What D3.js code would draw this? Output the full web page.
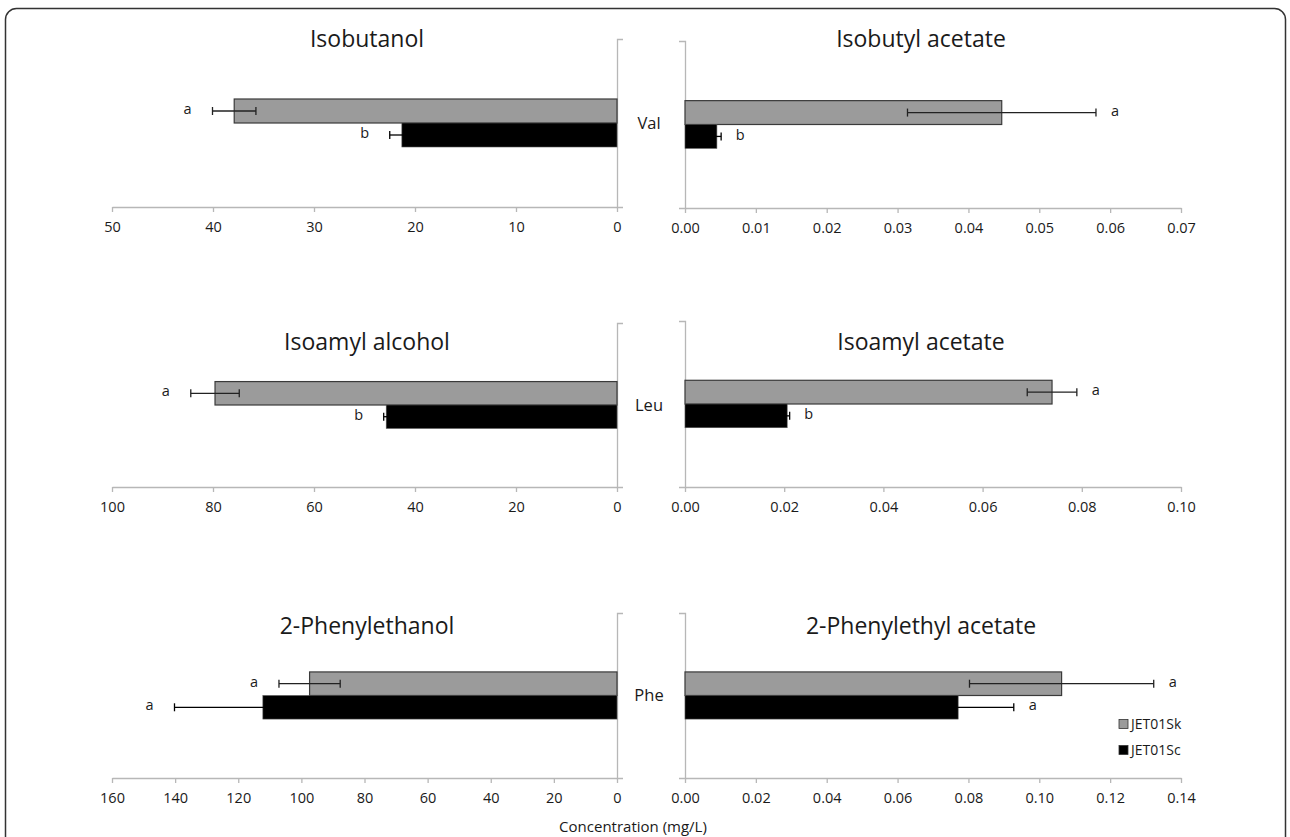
<!DOCTYPE html>
<html>
<head>
<meta charset="utf-8">
<script src="https://cdn.jsdelivr.net/npm/d3@7"></script>
<style>
  html, body { margin: 0; padding: 0; background: #fff; }
  svg { display: block; }
  text { font-family: "Open Sans", "DejaVu Sans", sans-serif; fill: #1a1a1a; }
</style>
</head>
<body>
<svg id="chart" width="1290" height="837"></svg>
<script>
// ---------------- data ----------------
const aminoAcids = ["Val", "Leu", "Phe"];
const seriesNames = ["JET01Sk", "JET01Sc"];

const alcoholNames = ["Isobutanol", "Isoamyl alcohol", "2-Phenylethanol"];
const alcoholSk    = [37.9, 79.6, 97.4];
const alcoholSkErr = [2.15, 4.8, 9.7];
const alcoholSkSig = ["a", "a", "a"];
const alcoholSc    = [21.3, 45.7, 112.2];
const alcoholScErr = [1.2, 0.5, 28.0];
const alcoholScSig = ["b", "b", "a"];
const alcoholMax   = [50, 100, 160];
const alcoholStep  = [10, 20, 20];

const acetateNames = ["Isobutyl acetate", "Isoamyl acetate", "2-Phenylethyl acetate"];
const acetateSk    = [0.0447, 0.0740, 0.1063];
const acetateSkErr = [0.0133, 0.0050, 0.0260];
const acetateSkSig = ["a", "a", "a"];
const acetateSc    = [0.0045, 0.0206, 0.0771];
const acetateScErr = [0.0006, 0.0005, 0.0157];
const acetateScSig = ["b", "b", "a"];
const acetateMax   = [0.07, 0.10, 0.14];
const acetateStep  = [0.01, 0.02, 0.02];

const axisTitle = "Concentration (mg/L)";

// ---------------- layout ----------------
const svg = d3.select("#chart");
const leftX  = [112, 617];   // max -> 0
const rightX = [685, 1181];  // 0 -> max
const rowsLeft  = [[39, 207], [323, 487], [613, 778]];
const rowsRight = [[41, 208], [321, 487], [613, 778]];
const titleY = [47, 350, 634];
const titleLeftX = 367, titleRightX = 921;
const colors = { JET01Sk: "#9b9b9b", JET01Sc: "#000000" };
const errColors = { JET01Sk: "#222", JET01Sc: "#000" };
const axisColor = "#b7b7b7";

// frame
svg.append("rect")
  .attr("x", 5.5).attr("y", 8.5).attr("width", 1280).attr("height", 860)
  .attr("rx", 11).attr("ry", 11)
  .attr("fill", "none").attr("stroke", "#333").attr("stroke-width", 1.5);

function panel(side, i) {
  const isLeft = side === "left";
  const [y0, y1] = isLeft ? rowsLeft[i] : rowsRight[i];
  const max = isLeft ? alcoholMax[i] : acetateMax[i];
  const step = isLeft ? alcoholStep[i] : acetateStep[i];
  const x = d3.scaleLinear().domain([0, max])
    .range(isLeft ? [leftX[1], leftX[0]] : [rightX[0], rightX[1]]);
  const y = d3.scaleBand().domain([aminoAcids[i]]).range([y0, y1])
    .paddingInner(0).paddingOuter(1.25);
  const ys = d3.scaleBand().domain(seriesNames).range([0, y.bandwidth()]);

  const vals = isLeft
    ? [{s: "JET01Sk", v: alcoholSk[i], e: alcoholSkErr[i], g: alcoholSkSig[i]},
       {s: "JET01Sc", v: alcoholSc[i], e: alcoholScErr[i], g: alcoholScSig[i]}]
    : [{s: "JET01Sk", v: acetateSk[i], e: acetateSkErr[i], g: acetateSkSig[i]},
       {s: "JET01Sc", v: acetateSc[i], e: acetateScErr[i], g: acetateScSig[i]}];

  const g = svg.append("g");
  const ticks = d3.range(0, max + step / 2, step);

  // x axis
  const ax = d3.axisBottom(x).tickValues(ticks).tickSize(5).tickSizeOuter(0).tickPadding(10)
    .tickFormat(isLeft ? d3.format("d") : d3.format(".2f"));
  const axg = g.append("g").attr("transform", `translate(0,${y1})`).call(ax);
  axg.select(".domain").attr("stroke", axisColor).attr("stroke-width", 1.3);
  axg.selectAll(".tick line").attr("stroke", axisColor).attr("stroke-width", 1.3);
  axg.selectAll(".tick text").style("font-size", "14.5px").style("font-family", '"Open Sans", sans-serif').attr("fill", "#1a1a1a");

  // category axis (vertical)
  const ay = (isLeft ? d3.axisRight(y) : d3.axisLeft(y)).tickValues([]).tickSizeOuter(6);
  const ayg = g.append("g").attr("transform", `translate(${x(0)},0)`).call(ay);
  ayg.select(".domain").attr("stroke", axisColor).attr("stroke-width", 1.3).attr("fill", "none");

  // bars
  g.append("g").selectAll("rect").data(vals).join("rect")
    .attr("x", d => Math.min(x(0), x(d.v)))
    .attr("width", d => Math.abs(x(d.v) - x(0)))
    .attr("y", d => y(aminoAcids[i]) + ys(d.s))
    .attr("height", ys.bandwidth())
    .attr("fill", d => colors[d.s])
    .attr("stroke", d => d.s === "JET01Sk" ? "#3a3a3a" : "#555")
    .attr("stroke-width", d => d.s === "JET01Sk" ? 1.2 : 0.6);

  // error bars
  vals.forEach(d => {
    const eg = g.append("g").attr("stroke", errColors[d.s]).attr("stroke-width", 1.3);
    const cy = y(aminoAcids[i]) + ys(d.s) + ys.bandwidth() / 2;
    const xa = x(d.v - d.e), xb = x(d.v + d.e);
    eg.append("line").attr("x1", xa).attr("x2", xb).attr("y1", cy).attr("y2", cy);
    [xa, xb].forEach(xx => eg.append("line").attr("x1", xx).attr("x2", xx)
      .attr("y1", cy - 4).attr("y2", cy + 4));
    g.append("text")
      .attr("x", xb + (isLeft ? -25 : 19))
      .attr("y", cy - 2)
      .attr("dy", "0.35em")
      .attr("text-anchor", "middle")
      .style("font-size", "14.5px")
      .text(d.g);
  });

  // title
  g.append("text")
    .attr("x", isLeft ? titleLeftX : titleRightX)
    .attr("y", titleY[i])
    .attr("text-anchor", "middle")
    .style("font-size", "23px")
    .text(isLeft ? alcoholNames[i] : acetateNames[i]);

  return { y, ys };
}

for (let i = 0; i < 3; i++) {
  const L = panel("left", i);
  panel("right", i);
  svg.append("text")
    .attr("x", 649)
    .attr("y", L.y(aminoAcids[i]) + L.y.bandwidth() / 2)
    .attr("dy", "0.35em")
    .attr("text-anchor", "middle")
    .style("font-size", "16.5px")
    .text(aminoAcids[i]);
}

// legend
const lg = svg.append("g").attr("transform", "translate(1119,724)");
seriesNames.forEach((s, k) => {
  const row = lg.append("g").attr("transform", `translate(0,${k * 26})`);
  row.append("rect").attr("x", 0).attr("y", -4.5).attr("width", 9).attr("height", 9)
    .attr("fill", colors[s]).attr("stroke", "#333").attr("stroke-width", 0.8);
  row.append("text").attr("x", 12).attr("y", 0).attr("dy", "0.35em")
    .style("font-size", "14px").text(s);
});

// axis title
svg.append("text")
  .attr("x", 633).attr("y", 832)
  .attr("text-anchor", "middle")
  .style("font-size", "15px")
  .text(axisTitle);
</script>
</body>
</html>
